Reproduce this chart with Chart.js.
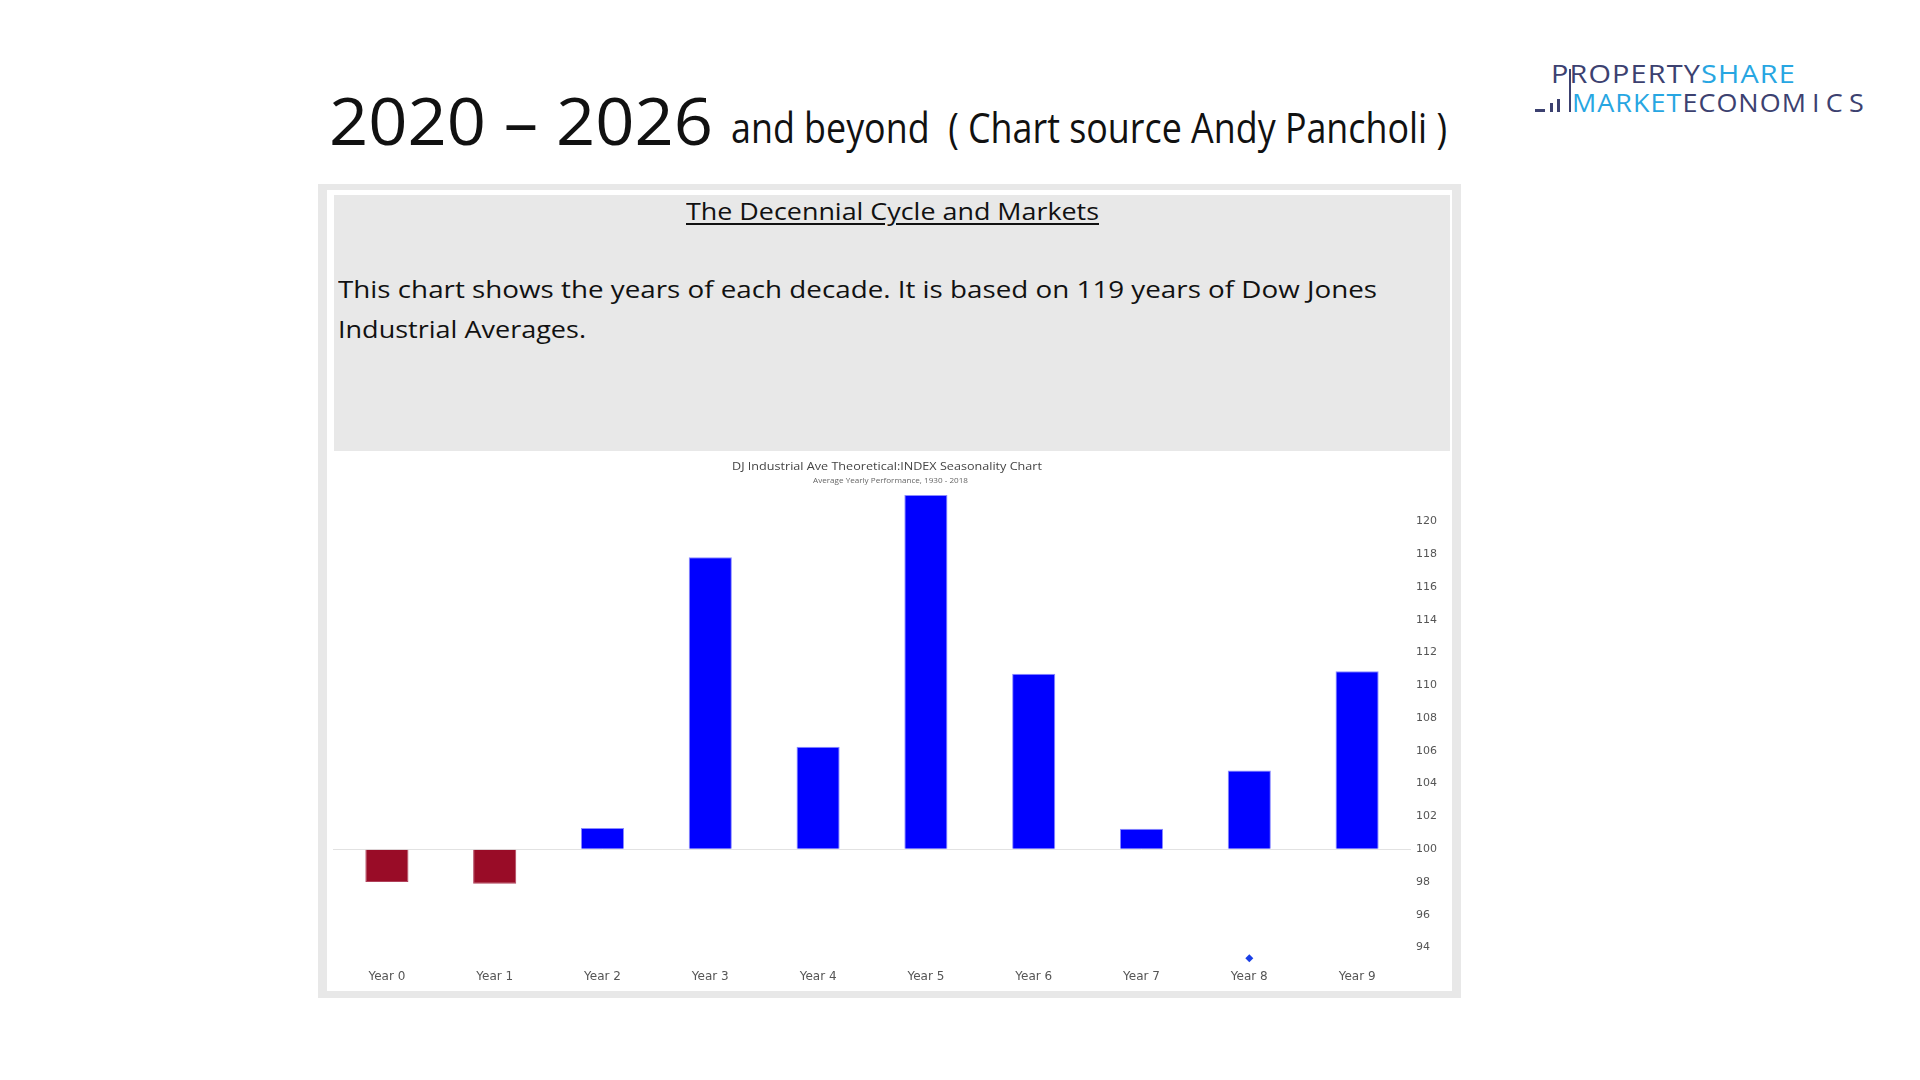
<!DOCTYPE html>
<html>
<head>
<meta charset="utf-8">
<title>The Decennial Cycle and Markets</title>
<script src="https://cdn.jsdelivr.net/npm/chart.js@4.4.1/dist/chart.umd.min.js"></script>
<style>
    html, body {
        margin: 0;
        padding: 0;
        background: #fff;
    }
    body {
        width: 1920px;
        height: 1080px;
        position: relative;
        overflow: hidden;
        font-family: 'Open Sans', sans-serif;
    }
    .abs {
        position: absolute;
    }
    .txt {
        position: absolute;
        white-space: nowrap;
        display: inline-block;
        line-height: 1;
        transform-origin: 0 0;
    }
    .navy { color: #3c4170; }
    .sky { color: #27a6e2; }
    .logo-mark { position: absolute; background: #3c4170; }
</style>
</head>
<body>

<!-- Slide heading -->
<span class="txt" data-w="384" style="left:329px; top:86px; font-size:66px; color:#111;">2020 – 2026</span>
<span class="txt" data-w="716" style="left:731px; top:106px; font-size:42px; color:#111;">and beyond&nbsp; ( Chart source Andy Pancholi )</span>

<!-- Logo -->
<span class="txt" data-w="245" style="left:1551px; top:61px; font-size:25px; letter-spacing:1px;"><span class="navy">PROPERTY</span><span class="sky">SHARE</span></span>
<span class="txt" data-w="298" style="left:1572px; top:89px; font-size:26px; letter-spacing:1px;"><span class="sky">MARKET</span><span class="navy">ECONO</span><span class="navy" style="letter-spacing:6px;">MICS</span></span>
<div class="logo-mark" style="left:1535px; top:109px; width:10px; height:3px;"></div>
<div class="logo-mark" style="left:1550px; top:103px; width:3px; height:9px;"></div>
<div class="logo-mark" style="left:1557px; top:99px; width:3px; height:13px;"></div>
<div class="logo-mark" style="left:1569px; top:69px; width:2px; height:43px;"></div>

<!-- Panel -->
<div class="abs" style="left:318px; top:184px; width:1143px; height:814px; background:#e8e8e8;"></div>
<div class="abs" style="left:327px; top:190px; width:1125px; height:801px; background:#fff;"></div>
<div class="abs" style="left:334px; top:195px; width:1116px; height:256px; background:#e8e8e8;"></div>

<span class="txt" data-w="413" style="left:686px; top:200px; font-size:23.5px; color:#111; text-decoration:underline; text-underline-offset:3px;">The Decennial Cycle and Markets</span>
<span class="txt" data-w="1039" style="left:338px; top:278px; font-size:23.5px; color:#111;">This chart shows the years of each decade. It is based on 119 years of Dow Jones</span>
<span class="txt" data-w="248" style="left:338px; top:318px; font-size:23.5px; color:#111;">Industrial Averages.</span>

<!-- Chart area -->
<div class="abs" style="left:327px; top:451px; width:1119px; height:540px; background:#fff;">
    <canvas id="seasonChart"></canvas>
</div>
<span class="txt" data-w="310" style="left:732px; top:460px; font-size:11px; color:#444;">DJ Industrial Ave Theoretical:INDEX Seasonality Chart</span>
<span class="txt" data-w="155" style="left:813px; top:478px; font-size:6.5px; color:#666;">Average Yearly Performance, 1930 - 2018</span>

<script>
// Data
const years = ['Year 0', 'Year 1', 'Year 2', 'Year 3', 'Year 4', 'Year 5', 'Year 6', 'Year 7', 'Year 8', 'Year 9'];
const avgPerformance = [98.0, 97.9, 101.3, 117.8, 106.25, 121.6, 110.7, 101.25, 104.8, 110.85];
const markerValues = [null, null, null, null, null, null, null, null, 93.35, null];
const yTickValues = [94, 96, 98, 100, 102, 104, 106, 108, 110, 112, 114, 116, 118, 120];

// Stretch text blocks to the measured widths
function fitTexts() {
    document.querySelectorAll('[data-w]').forEach(el => {
        const target = parseFloat(el.dataset.w);
        const actual = el.getBoundingClientRect().width;
        if (actual > 0) el.style.transform = `scaleX(${target / actual})`;
    });
}

function initChart() {
    const ctx = document.getElementById('seasonChart').getContext('2d');

    const barColors = avgPerformance.map(v => v < 100 ? '#990c27' : '#0000ff');
    const barBorders = avgPerformance.map(v => v < 100 ? '#b0405a' : '#8a8aff');

    new Chart(ctx, {
        data: {
            labels: years,
            datasets: [
                {
                    type: 'bar',
                    data: avgPerformance,
                    base: 100,
                    backgroundColor: barColors,
                    borderColor: barBorders,
                    borderWidth: 1,
                    barPercentage: 0.4,
                    categoryPercentage: 1.0
                },
                {
                    type: 'line',
                    data: markerValues,
                    showLine: false,
                    pointStyle: 'rectRot',
                    pointRadius: 4,
                    pointBackgroundColor: '#1a3fe6',
                    pointBorderWidth: 0
                }
            ]
        },
        options: {
            responsive: true,
            maintainAspectRatio: false,
            animation: false,
            layout: {
                padding: { left: 6, top: 37.5, right: 0, bottom: 0 }
            },
            plugins: {
                legend: { display: false },
                tooltip: { enabled: false }
            },
            scales: {
                x: {
                    offset: true,
                    grid: { display: false, drawTicks: false },
                    border: { display: false },
                    ticks: {
                        color: '#555',
                        padding: 6,
                        maxRotation: 0,
                        font: { family: "'DejaVu Sans', sans-serif", size: 12 }
                    },
                    afterFit: scale => { scale.height = 27; }
                },
                y: {
                    position: 'right',
                    min: 93,
                    max: 122,
                    afterBuildTicks: scale => {
                        scale.ticks = yTickValues.map(v => ({ value: v }));
                    },
                    grid: {
                        drawTicks: false,
                        color: c => (c.tick && c.tick.value === 100) ? '#e2e2e2' : 'rgba(0,0,0,0)'
                    },
                    border: { display: false },
                    ticks: {
                        color: '#555',
                        padding: 5,
                        font: { family: "'DejaVu Sans', sans-serif", size: 11 }
                    },
                    afterFit: scale => { scale.width = 35; }
                }
            }
        }
    });
}

document.addEventListener('DOMContentLoaded', () => {
    fitTexts();
    initChart();
});
</script>
</body>
</html>
